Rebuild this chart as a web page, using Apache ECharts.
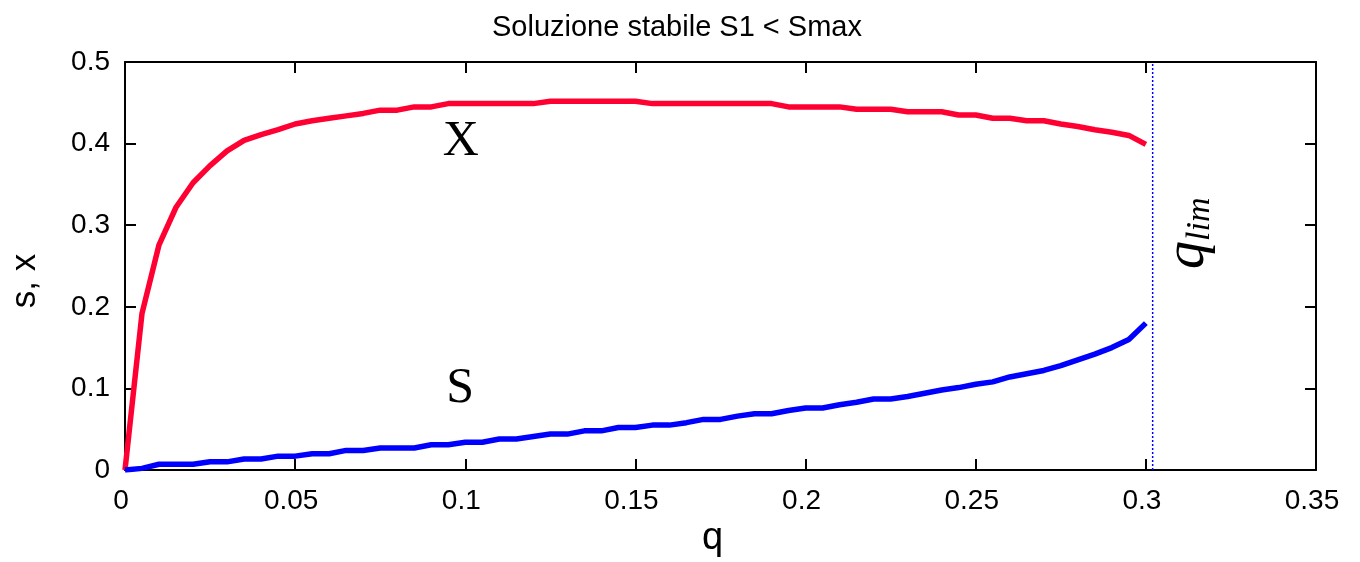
<!DOCTYPE html>
<html>
<head>
<meta charset="utf-8">
<script src="https://cdn.jsdelivr.net/npm/echarts@6/dist/echarts.min.js"></script>
<style>
  html, body { margin: 0; padding: 0; background: #fff; }
  #chart { width: 1360px; height: 562px; }
</style>
</head>
<body>
<div id="chart"></div>
<script>
// Dilution rate q, sampled every 0.005
const qValues = [
  0, 0.005, 0.01, 0.015, 0.02, 0.025, 0.03, 0.035, 0.04, 0.045,
  0.05, 0.055, 0.06, 0.065, 0.07, 0.075, 0.08, 0.085, 0.09, 0.095,
  0.1, 0.105, 0.11, 0.115, 0.12, 0.125, 0.13, 0.135, 0.14, 0.145,
  0.15, 0.155, 0.16, 0.165, 0.17, 0.175, 0.18, 0.185, 0.19, 0.195,
  0.2, 0.205, 0.21, 0.215, 0.22, 0.225, 0.23, 0.235, 0.24, 0.245,
  0.25, 0.255, 0.26, 0.265, 0.27, 0.275, 0.28, 0.285, 0.29, 0.295, 0.3
];
// Biomass X (stable solution)
const xValues = [
  0, 0.192, 0.276, 0.322, 0.352, 0.373, 0.391, 0.404, 0.411, 0.417,
  0.424, 0.428, 0.431, 0.434, 0.437, 0.441, 0.441, 0.445, 0.445, 0.449,
  0.449, 0.449, 0.449, 0.449, 0.449, 0.452, 0.452, 0.452, 0.452, 0.452,
  0.452, 0.449, 0.449, 0.449, 0.449, 0.449, 0.449, 0.449, 0.449, 0.445,
  0.445, 0.445, 0.445, 0.442, 0.442, 0.442, 0.439, 0.439, 0.439, 0.435,
  0.435, 0.431, 0.431, 0.428, 0.428, 0.424, 0.421, 0.417, 0.414, 0.410, 0.399
];
// Substrate S (stable solution)
const sValues = [
  0, 0.002, 0.007, 0.007, 0.007, 0.010, 0.010, 0.0135, 0.0135, 0.017,
  0.017, 0.020, 0.020, 0.024, 0.024, 0.027, 0.027, 0.027, 0.031, 0.031,
  0.034, 0.034, 0.038, 0.038, 0.041, 0.044, 0.044, 0.048, 0.048, 0.052,
  0.052, 0.055, 0.055, 0.058, 0.062, 0.062, 0.066, 0.069, 0.069, 0.073,
  0.076, 0.076, 0.080, 0.083, 0.087, 0.087, 0.090, 0.094, 0.098, 0.101,
  0.105, 0.108, 0.114, 0.118, 0.122, 0.128, 0.135, 0.142, 0.150, 0.160, 0.180
];
// Washout limit q_lim
const qLim = 0.302;
const xRange = [0, 0.35];
const yRange = [0, 0.5];

const chart = echarts.init(document.getElementById('chart'), null, { renderer: 'canvas' });

const sans = 'Liberation Sans, Arial, sans-serif';
const axisFont = { fontFamily: sans, fontSize: 28, color: '#000' };
const boxLine = () => ({ show: true, onZero: false, lineStyle: { color: '#000', width: 2 } });
const inTick = () => ({ show: true, inside: true, length: 11, lineStyle: { color: '#000', width: 2 } });

const xSeries = qValues.map((q, i) => [q, xValues[i]]);
const sSeries = qValues.map((q, i) => [q, sValues[i]]);

chart.setOption({
  animation: false,
  backgroundColor: '#fff',
  title: {
    text: 'Soluzione stabile S1 < Smax',
    left: 487,
    top: 8,
    textStyle: { fontFamily: sans, fontSize: 29, fontWeight: 'normal', color: '#000' }
  },
  grid: { left: 125, right: 44, top: 62, bottom: 92, containLabel: false, outerBoundsMode: 'none' },
  xAxis: [
    {
      type: 'value', position: 'bottom', min: xRange[0], max: xRange[1], interval: 0.05,
      name: 'q', nameLocation: 'middle', nameGap: 50,
      nameTextStyle: { fontFamily: sans, fontSize: 38, color: '#000', padding: [0, 16, 0, 0] },
      axisLine: boxLine(), axisTick: inTick(),
      axisLabel: Object.assign({ margin: 17, padding: [0, 8, 0, 0] }, axisFont),
      splitLine: { show: false }
    },
    {
      type: 'value', position: 'top', min: xRange[0], max: xRange[1], interval: 0.05,
      axisLine: boxLine(), axisTick: inTick(), axisLabel: { show: false }, splitLine: { show: false }
    }
  ],
  yAxis: [
    {
      type: 'value', position: 'left', min: yRange[0], max: yRange[1], interval: 0.1,
      name: 's, x', nameLocation: 'middle', nameGap: 82, nameRotate: 90,
      nameTextStyle: { fontFamily: sans, fontSize: 35, color: '#000', padding: [0, 30, 0, 0] },
      axisLine: boxLine(), axisTick: inTick(),
      axisLabel: Object.assign({ margin: 15 }, axisFont),
      splitLine: { show: false }
    },
    {
      type: 'value', position: 'right', min: yRange[0], max: yRange[1], interval: 0.1,
      axisLine: boxLine(), axisTick: inTick(), axisLabel: { show: false }, splitLine: { show: false }
    }
  ],
  series: [
    {
      name: 'X', type: 'line', data: xSeries, showSymbol: false,
      lineStyle: { color: '#ff0033', width: 5.5 }, z: 3
    },
    {
      name: 'S', type: 'line', data: sSeries, showSymbol: false,
      lineStyle: { color: '#0000ff', width: 5.5 }, z: 3
    },
    {
      name: 'q_lim', type: 'line', data: [[qLim, yRange[0]], [qLim, yRange[1]]], showSymbol: false,
      lineStyle: { color: '#0000ff', width: 1.5, type: [2, 2] }, z: 2
    }
  ]
});

// Curve and limit annotations, anchored in data coordinates
function place() {
  const px = (q, v) => chart.convertToPixel({ xAxisIndex: 0, yAxisIndex: 0 }, [q, v]);
  const xLab = px(0.0987, 0.402);
  const sLab = px(0.0985, 0.1);
  const qLab = px(qLim, 0.3);
  chart.setOption({
    graphic: [
      {
        type: 'text', x: xLab[0], y: xLab[1],
        style: { text: 'X', font: '50px "Liberation Serif", "Times New Roman", serif', fill: '#000', align: 'center', verticalAlign: 'middle' }
      },
      {
        type: 'text', x: sLab[0], y: sLab[1],
        style: { text: 'S', font: '50px "Liberation Serif", "Times New Roman", serif', fill: '#000', align: 'center', verticalAlign: 'middle' }
      },
      {
        type: 'text', x: qLab[0] + 36, y: qLab[1] + 8, rotation: Math.PI / 2,
        style: {
          text: '{q|q}{sub|lim}',
          align: 'center', verticalAlign: 'middle',
          rich: {
            q: { font: 'italic 56px "Liberation Serif", "Times New Roman", serif', fill: '#000' },
            sub: { font: 'italic 34px "Liberation Serif", "Times New Roman", serif', fill: '#000', verticalAlign: 'bottom', padding: [22, 0, 0, 0] }
          }
        }
      }
    ]
  });
}
place();
</script>
</body>
</html>
